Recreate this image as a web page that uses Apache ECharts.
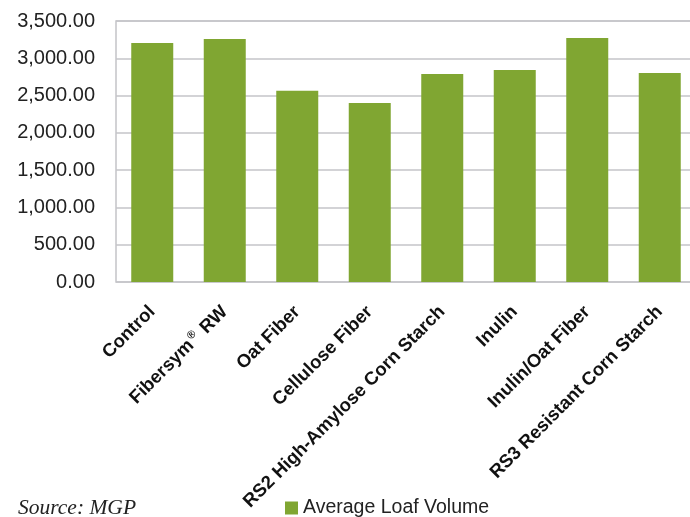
<!DOCTYPE html>
<html>
<head>
<meta charset="UTF-8">
<title>Average Loaf Volume</title>
<script src="https://cdn.jsdelivr.net/npm/echarts@6/dist/echarts.min.js"></script>
<style>
  html, body { margin: 0; padding: 0; background: #fff; }
  #main { width: 690px; height: 517px; }
</style>
</head>
<body>
<div id="main"></div>
<script type="text/javascript">
// data
var categories = ['Control', 'Fibersym® RW', 'Oat Fiber', 'Cellulose Fiber',
  'RS2 High-Amylose Corn Starch', 'Inulin', 'Inulin/Oat Fiber', 'RS3 Resistant Corn Starch'];
var loafVolume = [3205, 3259, 2565, 2400, 2789, 2843, 3272, 2803];
var yTicks = [0, 500, 1000, 1500, 2000, 2500, 3000, 3500];

var myChart = echarts.init(document.getElementById('main'));

function fmt(v) {
  return v.toLocaleString('en-US', { minimumFractionDigits: 2, maximumFractionDigits: 2 });
}

var option = {
  animation: false,
  backgroundColor: '#fff',
  textStyle: { fontFamily: 'Liberation Sans, Arial, sans-serif' },
  grid: {
    left: 116, width: 580, top: 21, height: 261,
    outerBoundsMode: 'none',
    show: true, borderColor: '#c4c4c8', borderWidth: 1.5
  },
  legend: {
    data: ['Average Loaf Volume'],
    left: 280, top: 493,
    itemWidth: 13, itemHeight: 13, icon: 'rect', itemGap: 6,
    textStyle: { fontSize: 19.5, color: '#222', fontFamily: 'Liberation Sans, Arial, sans-serif' }
  },
  graphic: [{
    type: 'text', left: 18, top: 497,
    style: { text: 'Source: MGP', font: 'italic 21.5px "Liberation Serif", "DejaVu Serif", serif', fill: '#222' }
  }],
  xAxis: {
    type: 'category',
    data: categories,
    axisLine: { show: false },
    axisTick: { show: false },
    axisLabel: {
      interval: 0, rotate: 45, margin: 27,
      fontSize: 18.5, fontWeight: 'bold', color: '#111',
      formatter: function (v) {
        if (v.indexOf('®') >= 0) {
          var p = v.split('®');
          return '{b|' + p[0] + '}{s|®}{b|' + p[1] + '}';
        }
        return '{b|' + v + '}';
      },
      rich: {
        b: { fontSize: 18.5, fontWeight: 'bold', color: '#111' },
        s: { fontSize: 11, color: '#111', verticalAlign: 'top', padding: [0, 2, 10, 2] }
      }
    }
  },
  yAxis: {
    type: 'value',
    min: yTicks[0], max: yTicks[yTicks.length - 1], interval: 500,
    axisLine: { show: false },
    axisTick: { show: false },
    splitLine: { lineStyle: { color: '#c4c4c8', width: 1.5 } },
    axisLabel: { fontSize: 20, color: '#222', margin: 21, formatter: fmt }
  },
  series: [{
    name: 'Average Loaf Volume',
    type: 'bar',
    data: loafVolume,
    barWidth: 42,
    itemStyle: { color: '#80a632' }
  }]
};

myChart.setOption(option);
</script>
</body>
</html>
